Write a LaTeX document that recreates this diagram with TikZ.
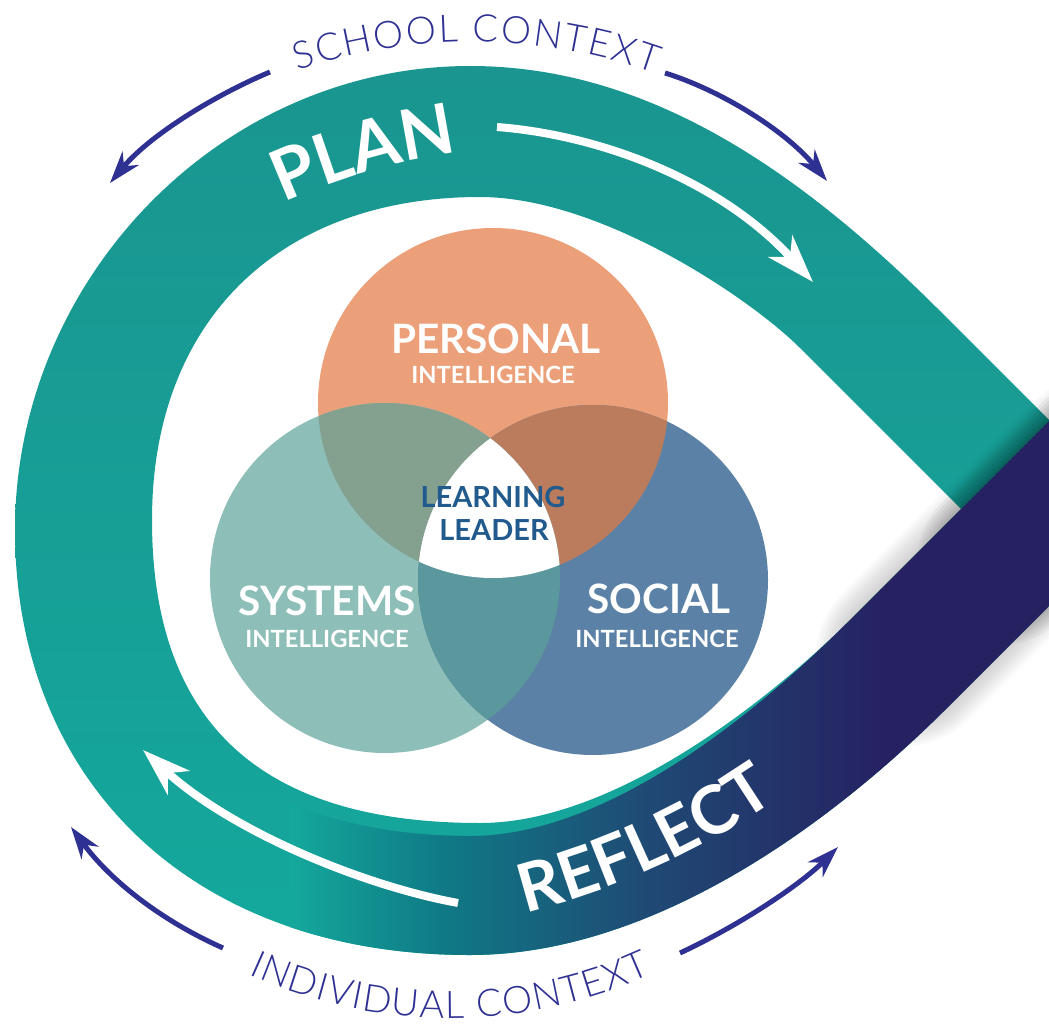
\documentclass[tikz,border=0pt]{standalone}
\usepackage{fontspec}
\setmainfont{Lato}
\newfontfamily\ctxfont{Lato}[UprightFont={* Light}]
\usetikzlibrary{arrows.meta,decorations.text}
\definecolor{tealtop}{HTML}{1A9590}
\definecolor{tealbot}{HTML}{14A89C}
\definecolor{tealdk}{HTML}{0F7A86}
\definecolor{midblue}{HTML}{1F4B75}
\definecolor{navy}{HTML}{262262}
\definecolor{ctx}{HTML}{2E3192}
\definecolor{pers}{HTML}{ECA07A}
\definecolor{sys}{HTML}{8DBFB8}
\definecolor{soc}{HTML}{5B82A6}
\definecolor{psy}{HTML}{84A08E}
\definecolor{pso}{HTML}{BB7C5E}
\definecolor{sso}{HTML}{5A989D}
\definecolor{llblue}{HTML}{215A8C}
\newcommand\venbig{\fontsize{40.5}{44}\selectfont\bfseries}
\newcommand\vensub{\fontsize{23.7}{26}\selectfont\bfseries}
\newcommand\venll{\fontsize{29}{32}\selectfont\bfseries}
\newcommand\bandfont{\fontsize{70}{80}\selectfont\bfseries}
\newcommand\bandfontb{\fontsize{67}{76}\selectfont\bfseries}
\newcommand\ctxsize{\ctxfont\fontsize{38}{40}\selectfont}
\begin{document}
\begin{tikzpicture}[x=1pt,y=-1pt,
  ctxarrow/.style={ctx, line width=5pt, -{Stealth[length=32pt, width=21pt, inset=10pt]}},
  whitearrow/.style={white, line width=8pt, -{Stealth[length=48pt, width=32pt, inset=14pt]}},
  venntitle/.style={anchor=base, text=white, font=\venbig, inner sep=0pt},
  vennsub/.style={anchor=base, text=white, font=\vensub, inner sep=0pt},
  centretxt/.style={anchor=base, text=llblue, font=\venll, inner sep=0pt}
]
\useasboundingbox (0,0) rectangle (1049,1024);

\begin{scope}
  \clip (0,0) rectangle (1049,1024);
  % teal loop (outer edge, then inner edge back)
  \shade[top color=tealtop, bottom color=tealbot]
    (1075,446) -- (940,311) .. controls (790,161) and (640,66) .. (470,66)
    .. controls (220,66) and (15,280) .. (15,530)
    .. controls (15,780) and (190,955) .. (470,955)
    .. controls (650,955) and (827,828) .. (947,708) -- (1075,580)
    -- (1075,395) -- (850,620) .. controls (780,690) and (620,823) .. (480,823)
    .. controls (280,823) and (152,740) .. (152,520)
    .. controls (152,320) and (280,197) .. (480,197)
    .. controls (600,197) and (750,298) .. (800,348) -- (1075,623) -- cycle;
  % soft shadow of the crossing dark arm
  \foreach \w in {136,142,...,178}
    \draw[black, opacity=0.025, line width=\w pt, line cap=round] (905,657) -- (1100,462);
  \foreach \w in {136,142,...,166}
    \draw[black, opacity=0.03, line width=\w pt, line cap=round] (1000,562) -- (1100,462);
  % gradient arm
  \begin{scope}
    \clip (15,530) .. controls (15,780) and (190,955) .. (470,955)
      .. controls (650,955) and (827,828) .. (947,708) -- (1075,580)
      -- (1075,395) -- (850,620) .. controls (780,690) and (620,836) .. (470,836)
      .. controls (380,836) and (300,815) .. (240,780) -- cycle;
    \shade[left color=tealbot, right color=tealdk] (290,300) rectangle (441,1024);
    \shade[left color=tealdk, right color=midblue] (440,300) rectangle (641,1024);
    \shade[left color=midblue, right color=navy] (640,300) rectangle (881,1024);
    \fill[navy] (880,300) rectangle (1100,1024);
  \end{scope}
\end{scope}

% Venn circles
\coordinate (cP) at (493,403);
\coordinate (cSy) at (385,578);
\coordinate (cSo) at (593,580);
\node[circle, minimum size=350pt, inner sep=0pt, fill=pers] (personal) at (cP) {};
\node[circle, minimum size=350pt, inner sep=0pt, fill=sys] (systems) at (cSy) {};
\node[circle, minimum size=350pt, inner sep=0pt, fill=soc] (social) at (cSo) {};
\begin{scope}
  \clip (cP) circle (175);
  \fill[psy] (cSy) circle (175);
\end{scope}
\begin{scope}
  \clip (cP) circle (175);
  \fill[pso] (cSo) circle (175);
\end{scope}
\begin{scope}
  \clip (cSy) circle (175);
  \fill[sso] (cSo) circle (175);
\end{scope}
\begin{scope}
  \clip (cP) circle (175);
  \clip (cSy) circle (175);
  \fill[white] (cSo) circle (175);
\end{scope}

\node[venntitle] (tPers) at (496,353) {PERSONAL};
\node[vennsub] (sPers) at (493,383) {INTELLIGENCE};
\node[venntitle] (tSys) at (327,615) {SYSTEMS};
\node[vennsub] (sSys) at (327,647) {INTELLIGENCE};
\node[venntitle] (tSoc) at (659,613) {SOCIAL};
\node[vennsub] (sSoc) at (657,647) {INTELLIGENCE};
\node[centretxt] (tLearn) at (493,507) {LEARNING};
\node[centretxt] (tLead) at (494,540) {LEADER};

% white arrows on the band
\coordinate (planS) at (497,127);
\coordinate (planE) at (813,282);
\draw[whitearrow] (planS) .. controls (600,135) and (720,180) .. (planE);
\coordinate (reflS) at (458,903);
\coordinate (reflE) at (143,750);
\draw[whitearrow] (reflS) .. controls (360,885) and (230,830) .. (reflE);

% band words
\path[decorate, decoration={text along path, text={|\bandfont|PLAN}, text color=white, text align=center}]
  (540,760) ++(-126.2:613) arc[start angle=-126.2, end angle=-86.2, radius=613];
\path[decorate, decoration={text along path, text={|\bandfontb|REFLECT}, text color=white, text align=center}]
  (333,154) ++(85.6:783) arc[start angle=85.6, end angle=45.6, radius=783];

% context arrows
\coordinate (tlS) at (270,72);  \coordinate (tlE) at (110,183);
\coordinate (trS) at (665,73);  \coordinate (trE) at (827,181);
\coordinate (blS) at (223,948); \coordinate (blE) at (71,827);
\coordinate (brS) at (680,953); \coordinate (brE) at (838,847);
\draw[ctxarrow] (tlS) .. controls (215,95) and (150,135) .. (tlE);
\draw[ctxarrow] (trS) .. controls (720,90) and (785,130) .. (trE);
\draw[ctxarrow] (blS) .. controls (160,920) and (110,880) .. (blE);
\draw[ctxarrow] (brS) .. controls (740,925) and (800,885) .. (brE);

% context words
\path[decorate, decoration={text along path, text={|\ctxsize|SCHOOL CONTEXT}, text color=ctx, text align=fit to path}]
  (472,591) ++(-108.5:549) arc[start angle=-108.5, end angle=-70.5, radius=549];
\path[decorate, decoration={text along path, text={|\ctxsize|INDIVIDUAL CONTEXT}, text color=ctx, text align=fit to path}]
  (450,531) ++(114.5:487) arc[start angle=114.5, end angle=65.5, radius=487];
\end{tikzpicture}
\end{document}
